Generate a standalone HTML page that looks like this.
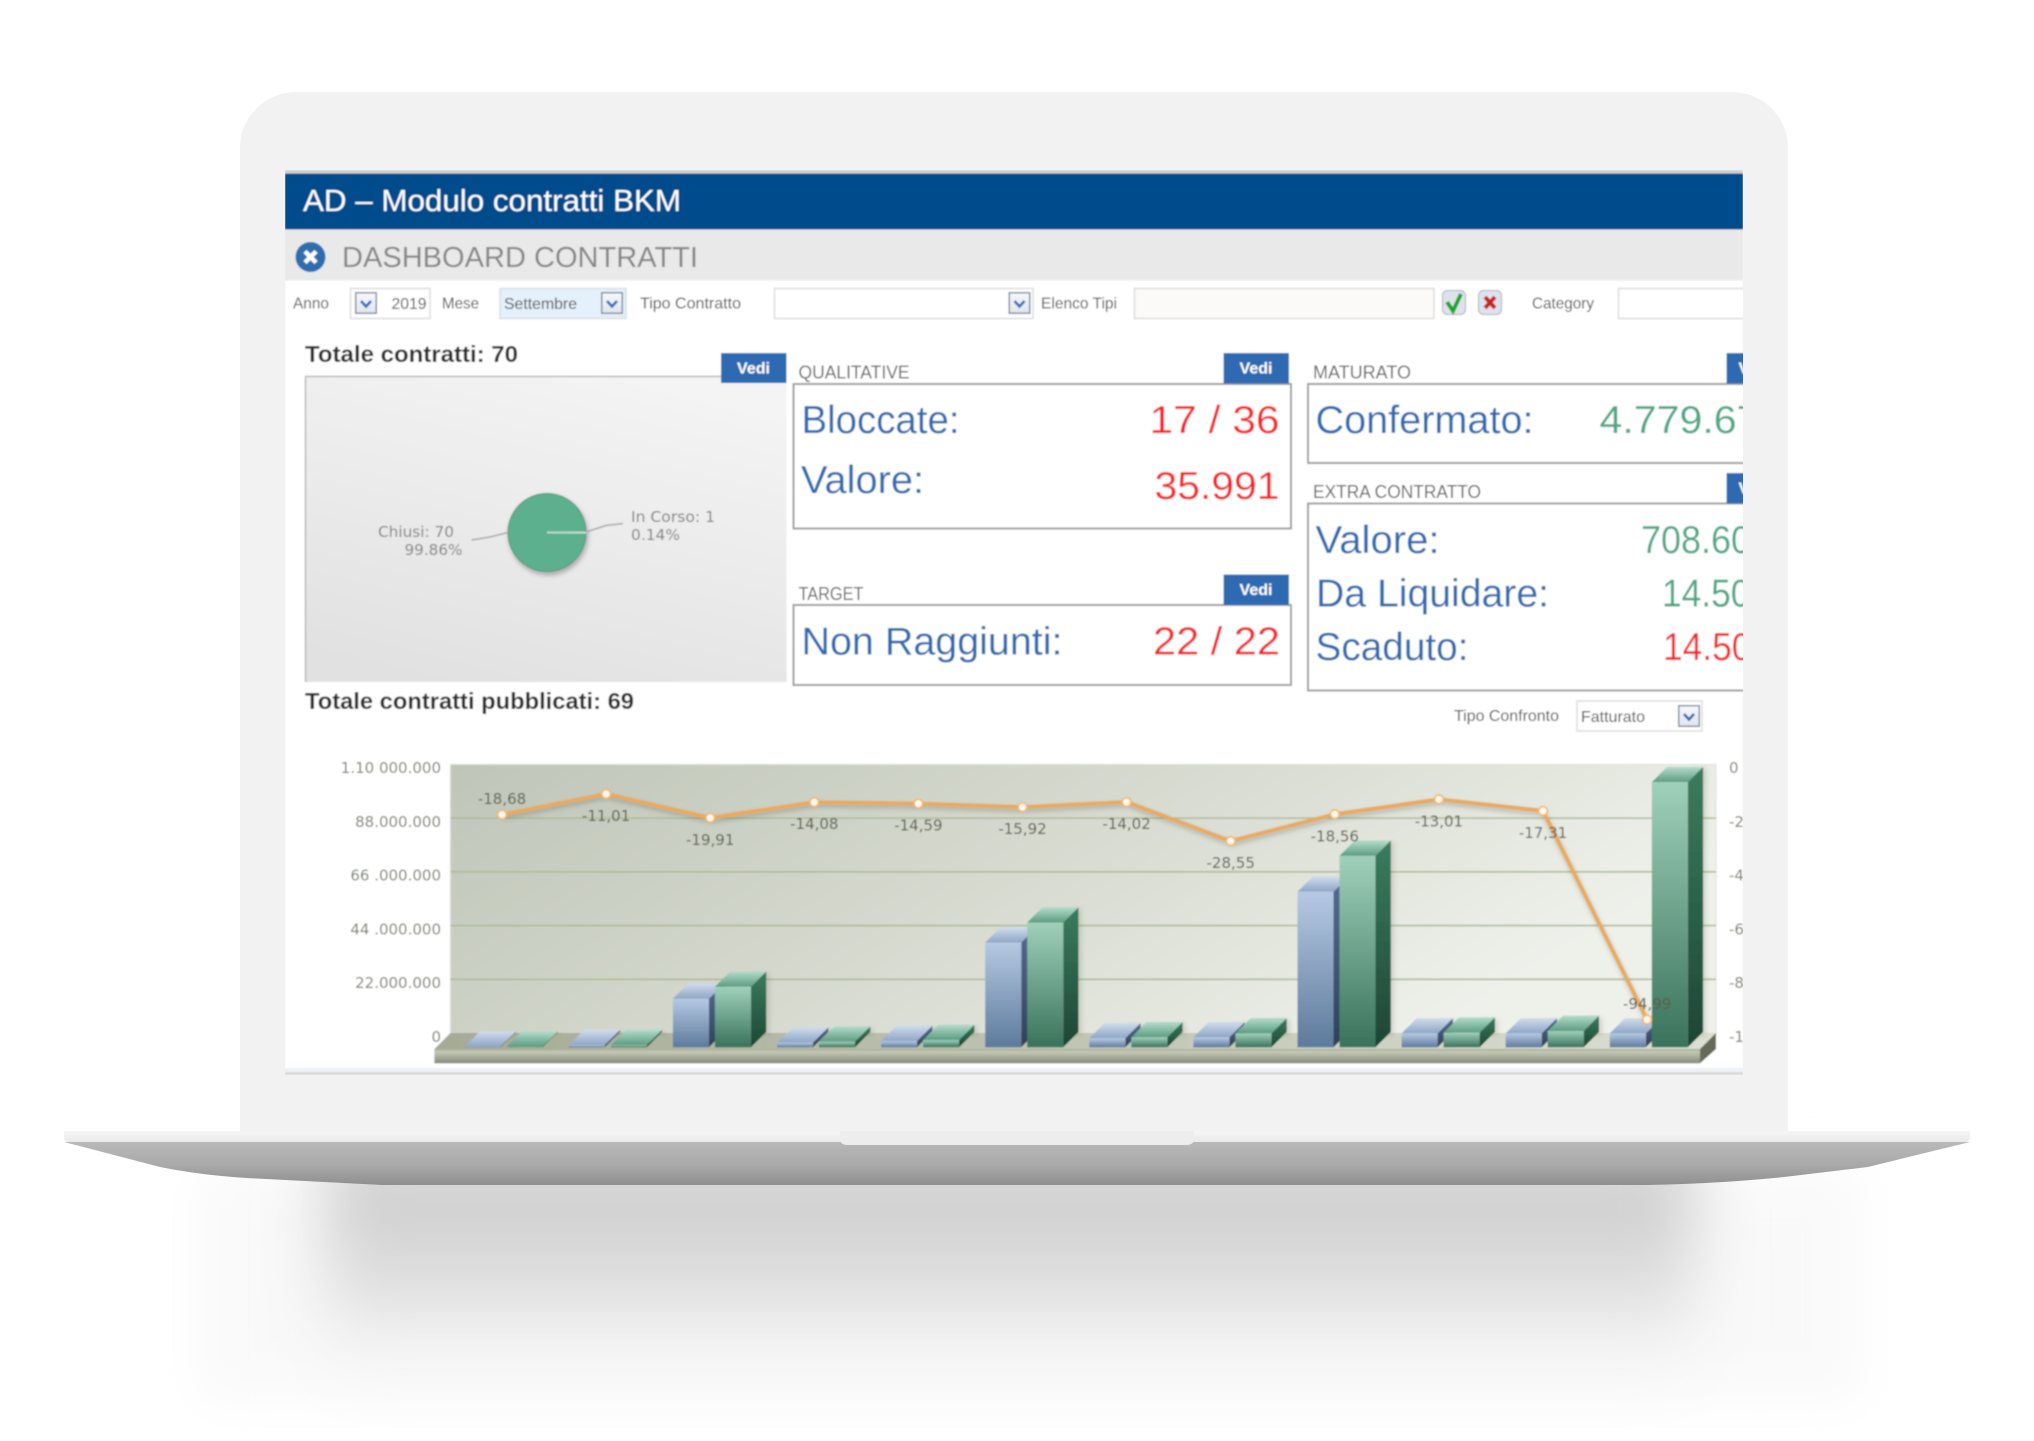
<!DOCTYPE html>
<html lang="it">
<head>
<meta charset="utf-8">
<title>AD – Modulo contratti BKM</title>
<style>
html,body{margin:0;padding:0;background:#fff;width:2034px;height:1441px;overflow:hidden}
svg{display:block}
text{font-family:"Liberation Sans",sans-serif}
.tb{font-size:16px;fill:#4f4f4f}
.sec{font-size:18px;fill:#5f5f5f}
.big{font-size:39px;fill:#2e6ab1}
.red{font-size:39px;fill:#fa2327}
.grn{font-size:39px;fill:#4ea884}
.tot{font-size:23px;font-weight:bold;fill:#2b2b2b}
.vedi{font-size:16px;font-weight:bold;fill:#fff;text-anchor:middle}
.pl{font-family:"DejaVu Sans",sans-serif;font-size:15px;fill:#808080}
.axis{font-family:"DejaVu Sans",sans-serif;font-size:15px;fill:#747a69}
.val{font-family:"DejaVu Sans",sans-serif;font-size:15px;fill:#565c4a;text-anchor:middle}
</style>
</head>
<body>
<svg xmlns="http://www.w3.org/2000/svg" width="2034" height="1441" viewBox="0 0 2034 1441">
<defs>
  <clipPath id="screenClip"><rect x="285" y="170" width="1458" height="905"/></clipPath>
  <filter id="b30" x="-20%" y="-30%" width="140%" height="160%"><feGaussianBlur stdDeviation="32"/></filter>
  <filter id="b20" x="-20%" y="-30%" width="140%" height="160%"><feGaussianBlur stdDeviation="24"/></filter>
  <filter id="soft" x="-5%" y="-5%" width="110%" height="110%"><feGaussianBlur stdDeviation="0.7"/></filter>
  <filter id="b2" x="-30%" y="-30%" width="160%" height="160%"><feGaussianBlur stdDeviation="2"/></filter>
  <linearGradient id="shadowCore" x1="0" y1="0" x2="0" y2="1">
    <stop offset="0" stop-color="#cbcbcb"/><stop offset=".3" stop-color="#d3d3d3"/><stop offset=".55" stop-color="#dfdfdf"/><stop offset=".8" stop-color="#f4f4f4"/><stop offset="1" stop-color="#fdfdfd"/>
  </linearGradient>
  <linearGradient id="baseGrad" x1="0" y1="0" x2="0" y2="1">
    <stop offset="0" stop-color="#b9b9b9"/><stop offset=".55" stop-color="#a9a9a9"/><stop offset="1" stop-color="#8f8f8f"/>
  </linearGradient>
  <linearGradient id="bandGrad" x1="0" y1="0" x2="0" y2="1">
    <stop offset="0" stop-color="#f6f6f6"/><stop offset="1" stop-color="#e9e9e9"/>
  </linearGradient>
  <linearGradient id="pieBg" x1=".7" y1="0" x2=".3" y2="1">
    <stop offset="0" stop-color="#f4f4f4"/><stop offset="1" stop-color="#e1e1e1"/>
  </linearGradient>
  <linearGradient id="wallGrad" x1="0" y1="0" x2="1" y2=".35">
    <stop offset="0" stop-color="#bfc5b8"/><stop offset=".5" stop-color="#d5d9ce"/><stop offset="1" stop-color="#eef0ea"/>
  </linearGradient>
  <linearGradient id="floorTop" x1="0" y1="0" x2="1" y2="0">
    <stop offset="0" stop-color="#a5aa95"/><stop offset="1" stop-color="#dcdfd3"/>
  </linearGradient>
  <linearGradient id="floorFront" x1="0" y1="0" x2="0" y2="1">
    <stop offset="0" stop-color="#a8ad98"/><stop offset=".2" stop-color="#c4c8b5"/><stop offset="1" stop-color="#85897a"/>
  </linearGradient>
  <linearGradient id="blueFront" x1="0" y1="0" x2="0" y2="1"><stop offset="0" stop-color="#b5c9e3"/><stop offset="1" stop-color="#5d7a9b"/></linearGradient>
  <linearGradient id="blueSide" x1="0" y1="0" x2="0" y2="1"><stop offset="0" stop-color="#546d90"/><stop offset="1" stop-color="#2f4059"/></linearGradient>
  <linearGradient id="blueTop" x1="0" y1="0" x2="0" y2="1"><stop offset="0" stop-color="#d0dcec"/><stop offset="1" stop-color="#8ea6c6"/></linearGradient>
  <linearGradient id="greenFront" x1="0" y1="0" x2="0" y2="1"><stop offset="0" stop-color="#9fd0ba"/><stop offset="1" stop-color="#39725a"/></linearGradient>
  <linearGradient id="greenSide" x1="0" y1="0" x2="0" y2="1"><stop offset="0" stop-color="#3b7c5e"/><stop offset="1" stop-color="#1d4534"/></linearGradient>
  <linearGradient id="greenTop" x1="0" y1="0" x2="0" y2="1"><stop offset="0" stop-color="#b4dccb"/><stop offset="1" stop-color="#5b9c80"/></linearGradient>
  <linearGradient id="btnGrad" x1="0" y1="0" x2="0" y2="1"><stop offset="0" stop-color="#f6f8fc"/><stop offset="1" stop-color="#dfe5ef"/></linearGradient>
  <symbol id="chev" viewBox="0 0 22 22" overflow="visible">
    <rect x=".75" y=".75" width="20.5" height="20.5" fill="url(#btnGrad)" stroke="#7e8a9c" stroke-width="1.5"/>
    <polyline points="6,9 11,14.5 16,9" fill="none" stroke="#2e6ab1" stroke-width="2.6"/>
  </symbol>
</defs>

<g>
  <rect x="200" y="1170" width="1660" height="230" fill="#f9f9f9" filter="url(#b20)"/>
  <rect x="325" y="1150" width="1370" height="245" fill="url(#shadowCore)" filter="url(#b30)"/>
</g>

<path d="M240 1152 V148 A56 56 0 0 1 296 92 H1732 A56 56 0 0 1 1788 148 V1152 Z" fill="#f2f2f2"/>

<g>
  <path d="M64 1142 L160 1167 Q200 1175 246 1178 L383 1185 L1647 1185 Q1740 1183 1809 1174 L1868 1167 L1970 1142 Z" fill="url(#baseGrad)"/>
  <path d="M64 1131 H1970 V1137 Q1970 1142 1965 1142 H69 Q64 1142 64 1137 Z" fill="url(#bandGrad)"/>
  <path d="M840 1131 H1194 V1139 Q1194 1145 1186 1145 H848 Q840 1145 840 1139 Z" fill="#ededed"/>
</g>

<g clip-path="url(#screenClip)" filter="url(#soft)">
  <rect x="285" y="170" width="1458" height="905" fill="#fff"/>
  <rect x="285" y="170" width="1458" height="3.5" fill="#cfd0d2"/>
  <rect x="285" y="173.5" width="1458" height="56" fill="#024c8c"/>
  <text x="303" y="211" font-size="31" fill="#fff" textLength="378" lengthAdjust="spacingAndGlyphs">AD – Modulo contratti BKM</text>
  <rect x="285" y="229.5" width="1458" height="51" fill="#e9e9e9"/>
  <g>
    <circle cx="310.5" cy="257" r="15" fill="#2f6db0"/>
    <path d="M305 251.5 L316 262.5 M316 251.5 L305 262.5" stroke="#fff" stroke-width="4.4"/>
  </g>
  <text x="342" y="267" font-size="29" fill="#858585" textLength="356" lengthAdjust="spacingAndGlyphs">DASHBOARD CONTRATTI</text>

  <g>
    <text class="tb" x="293" y="308.5" textLength="36" lengthAdjust="spacingAndGlyphs">Anno</text>
    <rect x="350.5" y="288.5" width="79.5" height="30" fill="#fff" stroke="#dcdcdc" stroke-width="1.5"/>
    <use href="#chev" x="355" y="292" width="22" height="22"/>
    <text class="tb" x="391.5" y="309" textLength="35" lengthAdjust="spacingAndGlyphs">2019</text>
    <text class="tb" x="442" y="308.5" textLength="37" lengthAdjust="spacingAndGlyphs">Mese</text>
    <rect x="500" y="288.5" width="126" height="30" fill="#e4f0fb" stroke="#d8dfe6" stroke-width="1.5"/>
    <text class="tb" x="504" y="309" textLength="73" lengthAdjust="spacingAndGlyphs">Settembre</text>
    <use href="#chev" x="601" y="292" width="22" height="22"/>
    <text class="tb" x="640" y="308.5" textLength="101" lengthAdjust="spacingAndGlyphs">Tipo Contratto</text>
    <rect x="774.5" y="288.5" width="258.5" height="30" fill="#fff" stroke="#dcdcdc" stroke-width="1.5"/>
    <use href="#chev" x="1008.5" y="292" width="22" height="22"/>
    <text class="tb" x="1041" y="308.5" textLength="76" lengthAdjust="spacingAndGlyphs">Elenco Tipi</text>
    <rect x="1134.5" y="288.5" width="299.5" height="30" fill="#fbfaf8" stroke="#dcdcdc" stroke-width="1.5"/>
    <g>
      <rect x="1442.5" y="290.5" width="23" height="24" rx="5" fill="#dfe2ec" stroke="#a9aebb"/>
      <path d="M1447 302 L1453 311 L1461 294" fill="none" stroke="#18a82c" stroke-width="4"/>
    </g>
    <g>
      <rect x="1478.5" y="290.5" width="23" height="24" rx="5" fill="#dfe2ec" stroke="#a9aebb"/>
      <path d="M1485 297 L1495 308 M1495 297 L1485 308" fill="none" stroke="#c8201f" stroke-width="4"/>
    </g>
    <text class="tb" x="1532" y="308.5" textLength="62" lengthAdjust="spacingAndGlyphs">Category</text>
    <rect x="1618.5" y="288.5" width="140" height="30" fill="#fff" stroke="#dcdcdc" stroke-width="1.5"/>
  </g>

  <text class="tot" x="305" y="362" textLength="213" lengthAdjust="spacingAndGlyphs">Totale contratti: 70</text>
  <rect x="305.5" y="376.5" width="481" height="305.5" fill="url(#pieBg)"/>
  <path d="M305.5 682 V376.5 H722" fill="none" stroke="#b8b8b8" stroke-width="1.5"/>
  <g id="pieChart"></g>
  <text class="pl" x="378" y="537" textLength="76" lengthAdjust="spacingAndGlyphs">Chiusi: 70</text>
  <text class="pl" x="404.5" y="555" textLength="58" lengthAdjust="spacingAndGlyphs">99.86%</text>
  <text class="pl" x="631" y="522" textLength="84" lengthAdjust="spacingAndGlyphs">In Corso: 1</text>
  <text class="pl" x="631" y="540" textLength="49" lengthAdjust="spacingAndGlyphs">0.14%</text>
  <polyline points="471.5,540 490,537 508,532.5" fill="none" stroke="#a8a8a8" stroke-width="1.5"/>
  <polyline points="586,532 606,525.5 623,523.5" fill="none" stroke="#a8a8a8" stroke-width="1.5"/>
  <g>
    <rect x="721" y="353" width="65.5" height="30" fill="#2e6ab1"/>
    <text class="vedi" x="753.5" y="373.5">Vedi</text>
  </g>

  <text class="sec" x="798.5" y="378.6" textLength="111" lengthAdjust="spacingAndGlyphs">QUALITATIVE</text>
  <rect x="793.5" y="384" width="497.5" height="144.5" fill="#fff" stroke="#9c9c9c" stroke-width="2"/>
  <text class="big" x="801.5" y="433" textLength="158" lengthAdjust="spacingAndGlyphs">Bloccate:</text>
  <text class="red" x="1149.5" y="433" textLength="130" lengthAdjust="spacingAndGlyphs">17 / 36</text>
  <text class="big" x="801" y="493" textLength="123" lengthAdjust="spacingAndGlyphs">Valore:</text>
  <text class="red" x="1154.5" y="499" textLength="125" lengthAdjust="spacingAndGlyphs">35.991</text>
  <g>
    <rect x="1223.5" y="353" width="65.5" height="30.5" fill="#2e6ab1"/>
    <text class="vedi" x="1256" y="373.5">Vedi</text>
  </g>

  <text class="sec" x="798.5" y="600" textLength="65" lengthAdjust="spacingAndGlyphs">TARGET</text>
  <rect x="793.5" y="605" width="497.5" height="80" fill="#fff" stroke="#9c9c9c" stroke-width="2"/>
  <text class="big" x="801.5" y="654.5" textLength="261" lengthAdjust="spacingAndGlyphs">Non Raggiunti:</text>
  <text class="red" x="1153" y="654.5" textLength="127" lengthAdjust="spacingAndGlyphs">22 / 22</text>
  <g>
    <rect x="1223.5" y="574.5" width="65.5" height="30.5" fill="#2e6ab1"/>
    <text class="vedi" x="1256" y="595">Vedi</text>
  </g>

  <text class="sec" x="1313" y="378.6" textLength="98" lengthAdjust="spacingAndGlyphs">MATURATO</text>
  <rect x="1308" y="384" width="470" height="79" fill="#fff" stroke="#9c9c9c" stroke-width="2"/>
  <text class="big" x="1315.5" y="433" textLength="218" lengthAdjust="spacingAndGlyphs">Confermato:</text>
  <text class="grn" x="1599.5" y="433" textLength="160" lengthAdjust="spacingAndGlyphs">4.779.67</text>
  <g>
    <rect x="1726.5" y="353" width="65.5" height="30.5" fill="#2e6ab1"/>
    <text class="vedi" x="1755" y="373.5">Vedi</text>
  </g>

  <text class="sec" x="1313" y="498" textLength="168" lengthAdjust="spacingAndGlyphs">EXTRA CONTRATTO</text>
  <rect x="1308" y="503.5" width="470" height="187" fill="#fff" stroke="#9c9c9c" stroke-width="2"/>
  <text class="big" x="1315.5" y="553" textLength="124" lengthAdjust="spacingAndGlyphs">Valore:</text>
  <text class="grn" x="1641" y="553" textLength="130" lengthAdjust="spacingAndGlyphs">708.600</text>
  <text class="big" x="1316" y="606.5" textLength="233" lengthAdjust="spacingAndGlyphs">Da Liquidare:</text>
  <text class="grn" x="1662" y="606.5" textLength="108" lengthAdjust="spacingAndGlyphs">14.500</text>
  <text class="big" x="1315.5" y="660" textLength="153" lengthAdjust="spacingAndGlyphs">Scaduto:</text>
  <text class="red" x="1663" y="660" textLength="108" lengthAdjust="spacingAndGlyphs">14.500</text>
  <g>
    <rect x="1726.5" y="473" width="65.5" height="30.5" fill="#2e6ab1"/>
    <text class="vedi" x="1755" y="493.5">Vedi</text>
  </g>

  <text class="tot" x="305" y="709" textLength="329" lengthAdjust="spacingAndGlyphs">Totale contratti pubblicati: 69</text>
  <text class="tb" x="1454" y="721" textLength="105" lengthAdjust="spacingAndGlyphs">Tipo Confronto</text>
  <rect x="1577" y="701" width="125" height="30" fill="#fff" stroke="#dcdcdc" stroke-width="1.5"/>
  <text class="tb" x="1581" y="722" textLength="64" lengthAdjust="spacingAndGlyphs">Fatturato</text>
  <use href="#chev" x="1678" y="705" width="22" height="22"/>

  <g id="comboChart"></g>

  <rect x="285" y="1068" width="1458" height="4" fill="#eef1f7"/>
  <rect x="285" y="1072" width="1458" height="3" fill="#d9d9d9"/>
</g>
</svg>

<script>
const months = ['Gen','Feb','Mar','Apr','Mag','Giu','Lug','Ago','Set','Ott','Nov','Dic'];
const seriesBlue = [0.3, 0.9, 19.9, 1.9, 2.6, 42.9, 3.7, 4.1, 63.7, 5.7, 5.7, 5.7];
const seriesGreen = [0.3, 0.9, 24.8, 2.3, 3.0, 51.1, 4.1, 5.7, 78.4, 6.0, 6.7, 108.6];
const lineValues = [-18.68, -11.01, -19.91, -14.08, -14.59, -15.92, -14.02, -28.55, -18.56, -13.01, -17.31, -94.99];
const labelAbove = [true, false, false, false, false, false, false, false, false, false, false, true];
const leftTickValues = [0, 22, 44, 66, 88, 110];
const leftTickLabels = ['0', '22.000.000', '44 .000.000', '66 .000.000', '88.000.000', '1.10 000.000'];
const rightTickValues = [0, -20, -40, -60, -80, -100];
const rightTickLabels = ['0', '-20', '-40', '-60', '-80', '-100'];
const pieValues = [99.86, 0.14];
const pieColors = ['#5db08d', '#cfe3d8'];

const NS = 'http://www.w3.org/2000/svg';
function make(tag, parent, attrs, txt) {
  const el = document.createElementNS(NS, tag);
  for (const k in attrs) el.setAttribute(k, attrs[k]);
  if (txt !== undefined) el.textContent = txt;
  parent.appendChild(el);
  return el;
}

/* axis functions */
const DEPTH = 15.3;
const WALL_LEFT = 450.4, WALL_RIGHT = 1716, WALL_TOP = 764.4, WALL_ZERO = 1033;
const BAR_BASE = 1047.3, BAR_W = 36;
const PX_PER_M = (WALL_ZERO - WALL_TOP) / 110;
function yWall(v) { return WALL_ZERO - v * PX_PER_M; }
function yBar(v) { return BAR_BASE - v * PX_PER_M; }
function yRight(v) { return WALL_TOP + (-v) * (WALL_ZERO - WALL_TOP) / 100; }
function xGroup(i) { return 464.7 + i * 104.1; }
function xLine(i) { return 502 + i * 104.1; }

const chart = document.getElementById('comboChart');

const wall = make('rect', chart, {x: WALL_LEFT, y: WALL_TOP, width: WALL_RIGHT - WALL_LEFT, height: WALL_ZERO - WALL_TOP + 2, fill: 'url(#wallGrad)', stroke: '#dfe2da', 'stroke-width': 1});



leftTickValues.forEach(function (v, i) {
  if (v > 0 && v < 110) {
    const g = make('line', chart, {x1: WALL_LEFT, x2: WALL_RIGHT, y1: yWall(v), y2: yWall(v), stroke: '#aebb98', 'stroke-width': 1.6});
    
    
  }
  const t = make('text', chart, {class: 'axis', x: 441, y: yWall(v) + 8.8, 'text-anchor': 'end'}, leftTickLabels[i]);
  
  
});

rightTickValues.forEach(function (v, i) {
  const t = make('text', chart, {class: 'axis', x: 1729, y: yRight(v) + 8.8}, rightTickLabels[i]);
  
  
});

const floorTop = make('polygon', chart, {points: [[WALL_LEFT, WALL_ZERO], [WALL_RIGHT, WALL_ZERO], [WALL_RIGHT - 16, WALL_ZERO + 16], [WALL_LEFT - 16, WALL_ZERO + 16]].join(' '), fill: 'url(#floorTop)'});


const floorFront = make('rect', chart, {x: WALL_LEFT - 16, y: WALL_ZERO + 16, width: WALL_RIGHT - WALL_LEFT, height: 14.3, fill: 'url(#floorFront)'});


const floorSide = make('polygon', chart, {points: [[WALL_RIGHT - 16, WALL_ZERO + 16], [WALL_RIGHT, WALL_ZERO], [WALL_RIGHT, WALL_ZERO + 16], [WALL_RIGHT - 16, WALL_ZERO + 30.3]].join(' '), fill: '#666b58'});



function drawBar(x, v, kind, name) {
  const y = yBar(v), g = make('g', chart, {});
  
  
  const shadow = make('rect', g, {x: x + BAR_W + 2, y: y - DEPTH + 2, width: DEPTH + 1, height: Math.max(BAR_BASE - y, 0) + 1, fill: 'rgba(60,60,50,.16)', filter: 'url(#b2)'});
  
  
  const side = make('polygon', g, {points: [[x + BAR_W, y], [x + BAR_W + DEPTH, y - DEPTH], [x + BAR_W + DEPTH, BAR_BASE - DEPTH], [x + BAR_W, BAR_BASE]].join(' '), fill: 'url(#' + kind + 'Side)'});
  
  
  const top = make('polygon', g, {points: [[x, y], [x + BAR_W, y], [x + BAR_W + DEPTH, y - DEPTH], [x + DEPTH, y - DEPTH]].join(' '), fill: 'url(#' + kind + 'Top)'});
  
  
  const front = make('rect', g, {x: x, y: y, width: BAR_W, height: BAR_BASE - y, fill: 'url(#' + kind + 'Front)'});
  
  
}

months.forEach(function (m, i) {
  drawBar(xGroup(i), seriesBlue[i], 'blue', 'bar-blue-' + m.toLowerCase());
  drawBar(xGroup(i) + 42, seriesGreen[i], 'green', 'bar-green-' + m.toLowerCase());
});

const linePts = lineValues.map(function (v, i) { return xLine(i) + ',' + yRight(v); }).join(' ');
const lineShadow = make('polyline', chart, {points: linePts, fill: 'none', stroke: 'rgba(70,70,60,.28)', 'stroke-width': 4, filter: 'url(#b2)', transform: 'translate(1,3)'});


const line = make('polyline', chart, {points: linePts, fill: 'none', stroke: '#e9aa5e', 'stroke-width': 4, 'stroke-linejoin': 'round'});



lineValues.forEach(function (v, i) {
  const p = make('circle', chart, {cx: xLine(i), cy: yRight(v), r: 4.4, fill: '#fff7ea', stroke: '#f0b56a', 'stroke-width': 1.6});
  
  
  const ly = yRight(v) + (labelAbove[i] ? -10.5 : 27);
  const t = make('text', chart, {class: 'val', x: xLine(i), y: ly}, v.toFixed(2).replace('.', ','));
  
  
});

/* pie */
const pie = document.getElementById('pieChart');
const PCX = 547, PCY = 532.5, PR = 39;
const pieShadow = make('circle', pie, {cx: PCX + 1.5, cy: PCY + 3, r: PR + 1, fill: 'rgba(90,90,90,.4)', filter: 'url(#b2)'});


const pieTotal = pieValues.reduce(function (a, b) { return a + b; }, 0);
let angle = 0;
pieValues.forEach(function (v, i) {
  const a0 = angle, a1 = angle + v / pieTotal * Math.PI * 2;
  angle = a1;
  const large = (a1 - a0) > Math.PI ? 1 : 0;
  const d = 'M' + PCX + ' ' + PCY + ' L' + (PCX + PR * Math.cos(a0)) + ' ' + (PCY - PR * Math.sin(a0)) +
            ' A' + PR + ' ' + PR + ' 0 ' + large + ' 0 ' + (PCX + PR * Math.cos(a1)) + ' ' + (PCY - PR * Math.sin(a1)) + ' Z';
  const s = make('path', pie, {d: d, fill: pieColors[i], stroke: i === 0 ? '#4b9a79' : '#cfe3d8', 'stroke-width': i === 0 ? 1 : 1.4});
  
  
});
</script>
</body>
</html>
